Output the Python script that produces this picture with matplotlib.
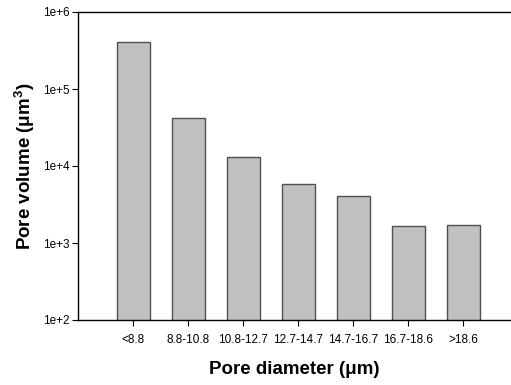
import numpy as np
import matplotlib
matplotlib.use('Agg')
from matplotlib import pyplot as plt
from matplotlib.ticker import FixedLocator, FuncFormatter, NullLocator

categories = ['<8.8', '8.8-10.8', '10.8-12.7', '12.7-14.7', '14.7-16.7', '16.7-18.6', '>18.6']
pore_volume = [4.02e5, 4.18e4, 1.30e4, 5.78e3, 4.03e3, 1.66e3, 1.71e3]

plt.rcParams['font.family'] = ['Liberation Sans', 'DejaVu Sans']
plt.rcParams['mathtext.default'] = 'regular'

fig = plt.figure(figsize=(5.11, 3.85), dpi=100)
ax = fig.add_axes([78 / 511, 1 - 320 / 385, 1 - 78 / 511, (320 - 12) / 385])

x = np.arange(len(categories))
ax.bar(x, pore_volume, width=0.6, color='#c0c0c0', edgecolor='#505050', linewidth=1.0)
ax.set_yscale('log')
ax.set_ylim(1e2, 1e6)
ax.set_xlim(-1, 6.87)

ax.yaxis.set_major_locator(FixedLocator([1e2, 1e3, 1e4, 1e5, 1e6]))
ax.yaxis.set_minor_locator(NullLocator())
ax.yaxis.set_major_formatter(FuncFormatter(lambda v, p: '1e+%d' % round(np.log10(v))))
ax.set_xticks(x)
ax.set_xticklabels(categories)
ax.tick_params(axis='both', labelsize=8.5, length=4, width=0.8, direction='out')
ax.tick_params(axis='y', pad=2)
ax.tick_params(axis='x', pad=6)

ax.spines['right'].set_visible(False)
for s in ['left', 'top', 'bottom']:
    ax.spines[s].set_linewidth(1.0)

ax.set_xlabel('Pore diameter (μm)', fontsize=13.5, fontweight='bold', labelpad=11)
ax.set_ylabel('Pore volume (μm$^3$)', fontsize=13.5, fontweight='bold', labelpad=4)

fig.savefig('out.png', dpi=100)
